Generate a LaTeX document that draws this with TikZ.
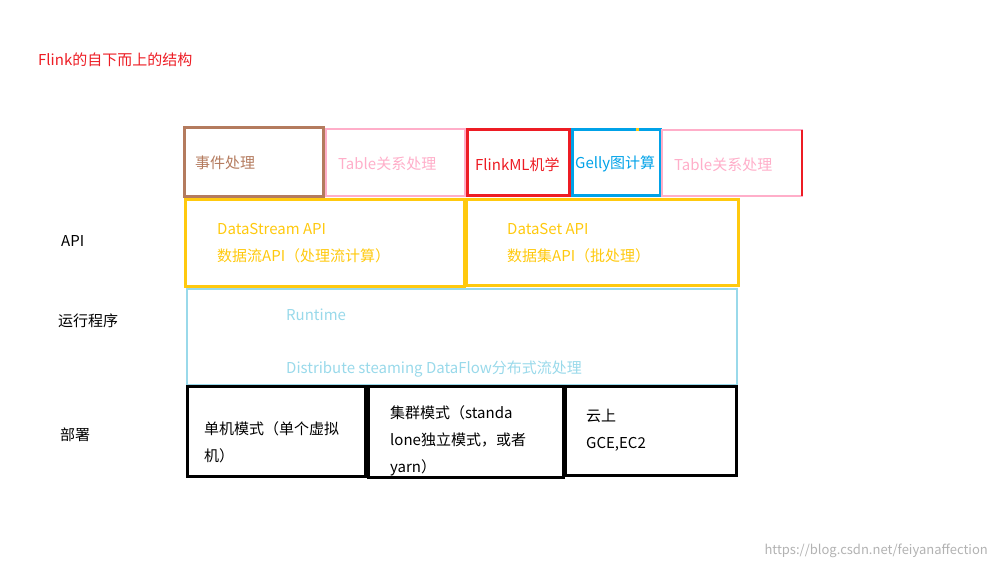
\documentclass[tikz,border=0pt]{standalone}
\usepackage{fontspec}
\setmainfont{Noto Sans CJK SC}
\begin{document}
\begin{tikzpicture}[x=1pt,y=-1pt,
 bx/.style={draw,line width=3pt},
 tx/.style={anchor=west,font=\fontsize{15}{27}\selectfont,inner sep=0pt},
 wb/.style={anchor=west,font=\fontsize{15}{27}\selectfont,inner sep=0pt,text width=#1,align=left}]
\useasboundingbox (0,0) rectangle (997,569);
\definecolor{brn}{HTML}{B47B5E}\definecolor{pnk}{HTML}{FFAEC9}\definecolor{rd}{HTML}{ED1C24}
\definecolor{bl}{HTML}{00A2E8}\definecolor{yl}{HTML}{FFC90E}\definecolor{ltb}{HTML}{99D9EA}
\node[tx,text=rd] (title) at (38,60) {Flink的自下而上的结构};
\draw[bx,brn] (184,128) rectangle (323,197); \node[tx,text=brn] (t1) at (195,163) {事件处理};
\draw[line width=2pt,pnk] (326,129) rectangle (465,196); \node[tx,text=pnk] (t2) at (338,164) {Table关系处理};
\draw[bx,rd] (467,130) rectangle (569,196); \node[tx,text=rd] (t3) at (475,165) {FlinkML机学};
\draw[bx,bl] (572,130) rectangle (660,196); \node[tx,text=bl] (t4) at (575,164) {Gelly图计算};
\draw[line width=2pt,pnk] (662,130) rectangle (802,196); \node[tx,text=pnk] (t5) at (674,165) {Table关系处理};
\draw[line width=2pt,rd] (802,130) -- (802,196);
\fill[yl] (636,128) rectangle (639,131);
\draw[bx,yl] (185,200) rectangle (464,287);
\node[tx,text=yl] (a1) at (217,229) {DataStream API};
\node[tx,text=yl] (a2) at (217,256) {数据流API（处理流计算）};
\draw[bx,yl] (466,200) rectangle (738,286);
\node[tx,text=yl] (b1) at (507,229) {DataSet API};
\node[tx,text=yl] (b2) at (507,256) {数据集API（批处理）};
\draw[line width=2pt,ltb] (187,289) rectangle (737,385);
\node[tx,text=ltb] (r1) at (286,315) {Runtime};
\node[tx,text=ltb] (r2) at (286,369) {Distribute steaming DataFlow分布式流处理};
\draw[bx] (187,387) rectangle (365,477);
\node[wb=150pt] (d1) at (204,442) {单机模式（单个虚拟\\机）};
\draw[bx] (368,387) rectangle (563,478);
\node[wb=170pt] (d2) at (390,441) {集群模式（standa\\lone独立模式，或者\\yarn）};
\draw[bx] (565,387) rectangle (736,476);
\node[wb=120pt] (d3) at (586,430) {云上\\GCE,EC2};
\node[tx] (l1) at (61,241) {API};
\node[tx] (l2) at (58,321) {运行程序};
\node[tx] (l3) at (60,435) {部署};
\node[anchor=east,inner sep=0pt,text=gray!60,font=\fontsize{13}{15}\selectfont] (wm) at (988,551) {https://blog.csdn.net/feiyanaffection};
\end{tikzpicture}
\end{document}
